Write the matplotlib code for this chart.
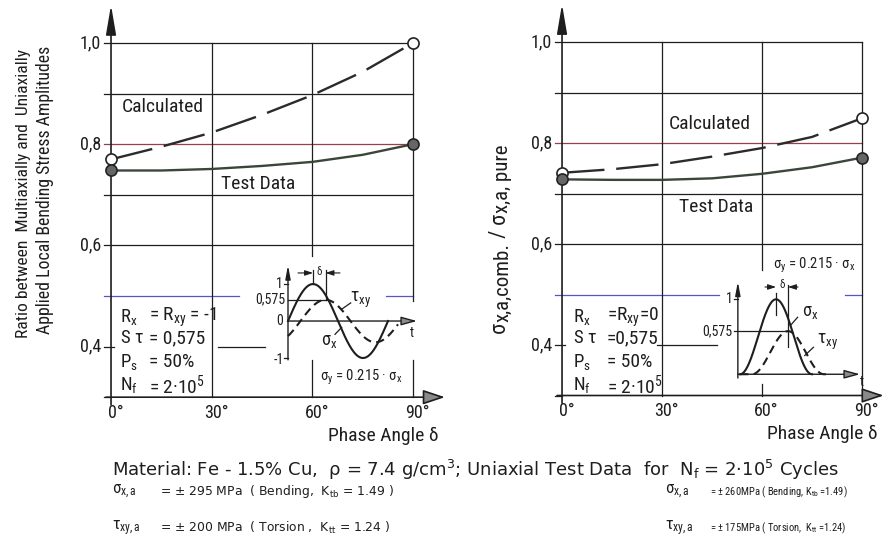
import matplotlib
matplotlib.use("Agg")
import matplotlib.pyplot as plt
from matplotlib import font_manager
import numpy as np

W, H = 891, 545

# values
phase = [0, 15, 30, 45, 60, 75, 90]
calc_left = [0.77, 0.795, 0.823, 0.858, 0.897, 0.943, 1.0]
test_left = [0.748, 0.748, 0.751, 0.757, 0.765, 0.779, 0.80]
calc_right = [0.741, 0.748, 0.758, 0.773, 0.79, 0.812, 0.849]
test_right = [0.728, 0.727, 0.727, 0.73, 0.739, 0.752, 0.771]

x_ticks = [0, 30, 60, 90]
x_tick_labels = ["0°", "30°", "60°", "90°"]
y_ticks = [1.0, 0.8, 0.6, 0.4]
y_tick_labels = ["1,0", "0,8", "0,6", "0,4"]
grid_y = [1.0, 0.9, 0.8, 0.7, 0.6]

# inset waveforms: stress amplitude ratio and phase shift used in the sketch
s_tau = 0.575
delta_left = 45 / 360
delta_right = 60 / 360

# narrow font if there is one
names = {f.name for f in font_manager.fontManager.ttflist}
cands = ["Roboto Condensed", "DejaVu Sans Condensed", "Liberation Sans Narrow"]
found = [c for c in cands if c in names]
FONT = found[0] if found else "DejaVu Sans"
plt.rcParams["font.family"] = [FONT, "DejaVu Sans"]
plt.rcParams["mathtext.fontset"] = "custom"
plt.rcParams["mathtext.rm"] = FONT
plt.rcParams["mathtext.it"] = FONT
plt.rcParams["mathtext.default"] = "regular"
WIDE = ["DejaVu Sans"]

INK = "#1e1e1e"
RED = "#9a3d4c"
BLUE = "#5a52c8"


def px_rect(x0, y0, x1, y1):
    return [x0 / W, 1 - y1 / H, (x1 - x0) / W, (y1 - y0) / H]


fig = plt.figure(figsize=(W / 100, H / 100), dpi=100)


def arrow(ax, x0, y0, x1, y1, hl=1.0, hw=0.17, ms=18, fc=INK, lw=1.2):
    ax.annotate("", xy=(x1, y1), xytext=(x0, y0),
                arrowprops=dict(arrowstyle=f"-|>,head_length={hl},head_width={hw}",
                                mutation_scale=ms, fc=fc, ec=INK, lw=lw,
                                shrinkA=0, shrinkB=0), annotation_clip=False)


def panel(rect, xlim, calc, test, hseg, vseg):
    ax = fig.add_axes(rect)
    ax.set_xlim(*xlim)
    ax.set_ylim(0.28, 1.08)
    ax.axis("off")
    for y in grid_y:
        ax.plot([-2, 90], [y, y], color=RED if y == 0.8 else INK, lw=0.9)
    for y, a, b, c in hseg:
        ax.plot([a, b], [y, y], color=c, lw=0.9)
    for x, a, b in vseg:
        ax.plot([x, x], [a, b], color=INK, lw=0.9)
    # axes with arrows
    arrow(ax, 0, 0.285, 0, 1.075, hl=1.0, hw=0.17)
    arrow(ax, -1.5, 0.3, xlim[1] - 2.5, 0.3, hl=0.75, hw=0.25, fc="#8a8a8a")
    ax.plot([-2, 0], [0.3, 0.3], color=INK, lw=0.9)
    for x, lab in zip(x_ticks, x_tick_labels):
        ax.text(x + 1.3, 0.269, lab, ha="center", va="center", fontsize=13, color=INK)
    for y, lab in zip(y_ticks, y_tick_labels):
        ax.text(-3.0, y, lab, ha="right", va="center", fontsize=13, color=INK)
    # curves
    ax.plot(phase, calc, color="#2b2b2b", lw=1.7, dashes=(18, 5))
    ax.plot(phase, test, color="#3b463b", lw=1.7)
    ax.plot([phase[0], phase[-1]], [calc[0], calc[-1]], "o", mfc="white",
            mec="#222", ms=8, mew=1.2, zorder=5)
    ax.plot([phase[0], phase[-1]], [test[0], test[-1]], "o", mfc="#666",
            mec="#222", ms=8, mew=1.2, zorder=5)
    return ax


axL = panel(px_rect(97.6, 2.5, 453.3, 407.3), (-4, 102), calc_left, test_left,
            [(0.5, -2, 38, BLUE), (0.5, 82, 90, BLUE), (0.4, -2, 1, INK), (0.4, 32, 46, INK)],
            [(30, 0.3, 1.0), (60, 0.58, 1.0), (60, 0.3, 0.373), (90, 0.49, 1.0), (90, 0.3, 0.373)])
axR = panel(px_rect(548.7, 1.6, 892.0, 405.6), (-4, 99), calc_right, test_right,
            [(0.5, -2, 47, BLUE), (0.5, 85, 90, BLUE), (0.4, -2, 1, INK), (0.4, 28.5, 46.5, INK)],
            [(30, 0.3, 1.0), (60, 0.548, 1.0), (60, 0.3, 0.323), (90, 0.3, 1.0)])

axL.text(15.5, 0.874, "Calculated", ha="center", va="center", fontsize=14, color=INK)
axL.text(43.8, 0.721, "Test Data", ha="center", va="center", fontsize=14, color=INK)
axR.text(44.4, 0.838, "Calculated", ha="center", va="center", fontsize=14, color=INK)
axR.text(46.2, 0.673, "Test Data", ha="center", va="center", fontsize=14, color=INK)

axL.text(81.0, 0.223, "Phase Angle δ", ha="center", va="center", fontsize=14, color=INK)
axR.text(78.0, 0.223, "Phase Angle δ", ha="center", va="center", fontsize=14, color=INK)

# condition boxes
rows_y_L = [0.4585, 0.417, 0.370, 0.324]
rows_y_R = [0.4554, 0.4139, 0.3663, 0.3208]
left_names = ["$R_x$", r"S $\tau$", "$P_s$", "$N_f$"]
vals_L = ["= $R_{xy}$ = -1", "= 0,575", "= 50%", "= 2·10$^5$"]
vals_R = ["=$R_{xy}$=0", "=0,575", "= 50%", "= 2·10$^5$"]
for y, n, v in zip(rows_y_L, left_names, vals_L):
    axL.text(2.7, y, n, ha="left", va="center", fontsize=13.5, color=INK)
    axL.text(11.3, y, v, ha="left", va="center", fontsize=14, color=INK)
for y, n, v in zip(rows_y_R, left_names, vals_R):
    axR.text(3.3, y, n, ha="left", va="center", fontsize=13.5, color=INK)
    axR.text(13.5, y, v, ha="left", va="center", fontsize=14, color=INK)

axL.text(74.5, 0.34, "σ$_y$ = 0.215 · σ$_x$", ha="center", va="center", fontsize=10.5, color=INK)
axR.text(75.6, 0.558, "σ$_y$ = 0.215 · σ$_x$", ha="center", va="center", fontsize=10.5, color=INK)

# inset left: alternating sine loading
inL = fig.add_axes(px_rect(255, 260, 430, 368))
inL.set_xlim(-0.33, 1.42)
inL.set_ylim(-1.27, 1.65)
inL.axis("off")
t = np.linspace(0, 1.0, 200)
inL.plot(t, np.sin(2 * np.pi * t), color=INK, lw=1.5)
t2 = np.linspace(0, 1.1, 200)
inL.plot(t2, s_tau * np.sin(2 * np.pi * (t2 - delta_left)), color=INK, lw=1.5, dashes=(4, 2.5))
arrow(inL, 0, -1.05, 0, 1.51, hl=0.8, hw=0.15, ms=10, lw=1.0)
arrow(inL, 0, 0, 1.29, 0, hl=0.8, hw=0.22, ms=12, fc="#8a8a8a", lw=1.0)
pk = 0.25 + delta_left
inL.plot([0, pk], [s_tau, s_tau], color=INK, lw=0.9)
inL.plot([-0.04, 0], [1, 1], color=INK, lw=0.9)
inL.plot([-0.04, 0], [-1, -1], color=INK, lw=0.9)
inL.plot([0.25, 0.25], [1.0, 1.38], color=INK, lw=0.9)
inL.plot([pk, pk], [s_tau, 1.38], color=INK, lw=0.9)
arrow(inL, 0.1, 1.30, 0.25, 1.30, hl=0.6, hw=0.2, ms=8, lw=0.8)
arrow(inL, 0.52, 1.30, pk, 1.30, hl=0.6, hw=0.2, ms=8, lw=0.8)
inL.text(0.31, 1.33, "δ", ha="center", va="center", fontsize=8, color=INK)
inL.text(-0.05, 1, "1", ha="right", va="center", fontsize=10, color=INK)
inL.text(-0.03, s_tau, "0,575", ha="right", va="center", fontsize=10, color=INK)
inL.text(-0.05, 0, "0", ha="right", va="center", fontsize=10, color=INK)
inL.text(-0.04, -1.05, "-1", ha="right", va="center", fontsize=10, color=INK)
inL.plot([0.537, 0.627], [0.32, 0.49], color=INK, lw=0.9)
inL.text(0.73, 0.56, r"$\tau_{xy}$", ha="center", va="center", fontsize=13, color=INK)
inL.plot([0.537, 0.47], [-0.17, -0.36], color=INK, lw=0.9)
inL.text(0.41, -0.55, "σ$_x$", ha="center", va="center", fontsize=13, color=INK)
inL.text(1.24, -0.32, "t", ha="center", va="center", fontsize=10, color=INK)

# inset right: pulsating loading
inR = fig.add_axes(px_rect(700, 275, 870, 390))
inR.set_xlim(-0.556, 1.806)
inR.set_ylim(-0.21, 1.324)
inR.axis("off")
t = np.linspace(0, 1.0, 200)
inR.plot(t, (1 - np.cos(2 * np.pi * t)) / 2, color=INK, lw=1.5)
t2 = np.linspace(0, 1.25, 250)
ph = np.clip(t2 - delta_right, 0, 1)
inR.plot(t2, s_tau * (1 - np.cos(2 * np.pi * ph)) / 2, color=INK, lw=1.5, dashes=(4, 2.5))
arrow(inR, -0.03, -0.05, -0.03, 1.235, hl=0.8, hw=0.15, ms=10, lw=1.0)
arrow(inR, -0.03, 0, 1.667, 0, hl=0.8, hw=0.22, ms=12, fc="#8a8a8a", lw=1.0)
pk = 0.5 + delta_right
inR.plot([-0.08, pk], [s_tau, s_tau], color=INK, lw=0.9)
inR.plot([-0.08, -0.03], [1, 1], color=INK, lw=0.9)
inR.plot([0.5, 0.5], [0.79, 1.08], color=INK, lw=0.9)
inR.plot([pk, pk], [0.36, 1.19], color=INK, lw=0.9)
arrow(inR, 0.347, 1.164, 0.5, 1.164, hl=0.6, hw=0.2, ms=8, lw=0.8)
arrow(inR, 0.806, 1.164, pk, 1.164, hl=0.6, hw=0.2, ms=8, lw=0.8)
inR.text(0.583, 1.19, "δ", ha="center", va="center", fontsize=8, color=INK)
inR.text(-0.1, 1, "1", ha="right", va="center", fontsize=10, color=INK)
inR.text(-0.1, s_tau, "0,575", ha="right", va="center", fontsize=10, color=INK)
inR.plot([0.70, 0.80], [0.65, 0.76], color=INK, lw=0.9)
inR.text(0.97, 0.83, "σ$_x$", ha="center", va="center", fontsize=13, color=INK)
inR.plot([0.90, 1.02], [0.25, 0.36], color=INK, lw=0.9)
inR.text(1.22, 0.43, r"$\tau_{xy}$", ha="center", va="center", fontsize=13, color=INK)
inR.text(1.694, -0.1, "t", ha="center", va="center", fontsize=10, color=INK)

# y axis titles
fig.text(24 / W, 1 - 194 / H, "Ratio between  Multiaxially and  Uniaxially",
         rotation=90, ha="center", va="center", fontsize=12.6, color=INK)
fig.text(45 / W, 1 - 190 / H, "Applied Local Bending Stress Amplitudes",
         rotation=90, ha="center", va="center", fontsize=12.8, color=INK)

# right title built from pieces so the subscripts stay near full size
renderer = fig.canvas.get_renderer()
ypos = 333.0
for txt, size, dx in [("σ", 16, 0), ("x,a,comb.", 15, 4), (" / ", 16, 0),
                      ("σ", 16, 0), ("x,a, pure", 15, 4)]:
    tt = fig.text((499 + dx) / W, 1 - ypos / H, txt, rotation=90, ha="center",
                  va="bottom", fontsize=size, color=INK)
    ypos -= tt.get_window_extent(renderer).height

# material notes
fig.text(112 / W, 1 - 470 / H,
         "Material: Fe - 1.5% Cu,  ρ = 7.4 g/cm$^3$; Uniaxial Test Data  for  $N_f$ = 2·10$^5$ Cycles",
         ha="left", va="center", fontsize=13, color=INK, family=WIDE)
notes = [
    (112, 160, 492, "σ$_{x,a}$", "= ± 295 MPa  ( Bending,  $K_{tb}$ = 1.49 )", WIDE, 8.9),
    (112, 160, 528, r"$\tau_{xy,a}$", "= ± 200 MPa  ( Torsion ,  $K_{tt}$ = 1.24 )", WIDE, 8.9),
    (665, 710, 492, "σ$_{x,a}$", "= ± 260MPa ( Bending, $K_{tb}$ =1.49)", None, 7.6),
    (665, 710, 528, r"$\tau_{xy,a}$", "= ± 175MPa ( Torsion,  $K_{tt}$ =1.24)", None, 7.6),
]
for x0, x1, y, name, val, fam, fs in notes:
    fig.text(x0 / W, 1 - y / H, name, ha="left", va="center", fontsize=12, color=INK)
    kw = {"family": fam} if fam else {}
    fig.text(x1 / W, 1 - y / H, val, ha="left", va="center", fontsize=fs, color=INK, **kw)

fig.savefig("out.png", dpi=100)
